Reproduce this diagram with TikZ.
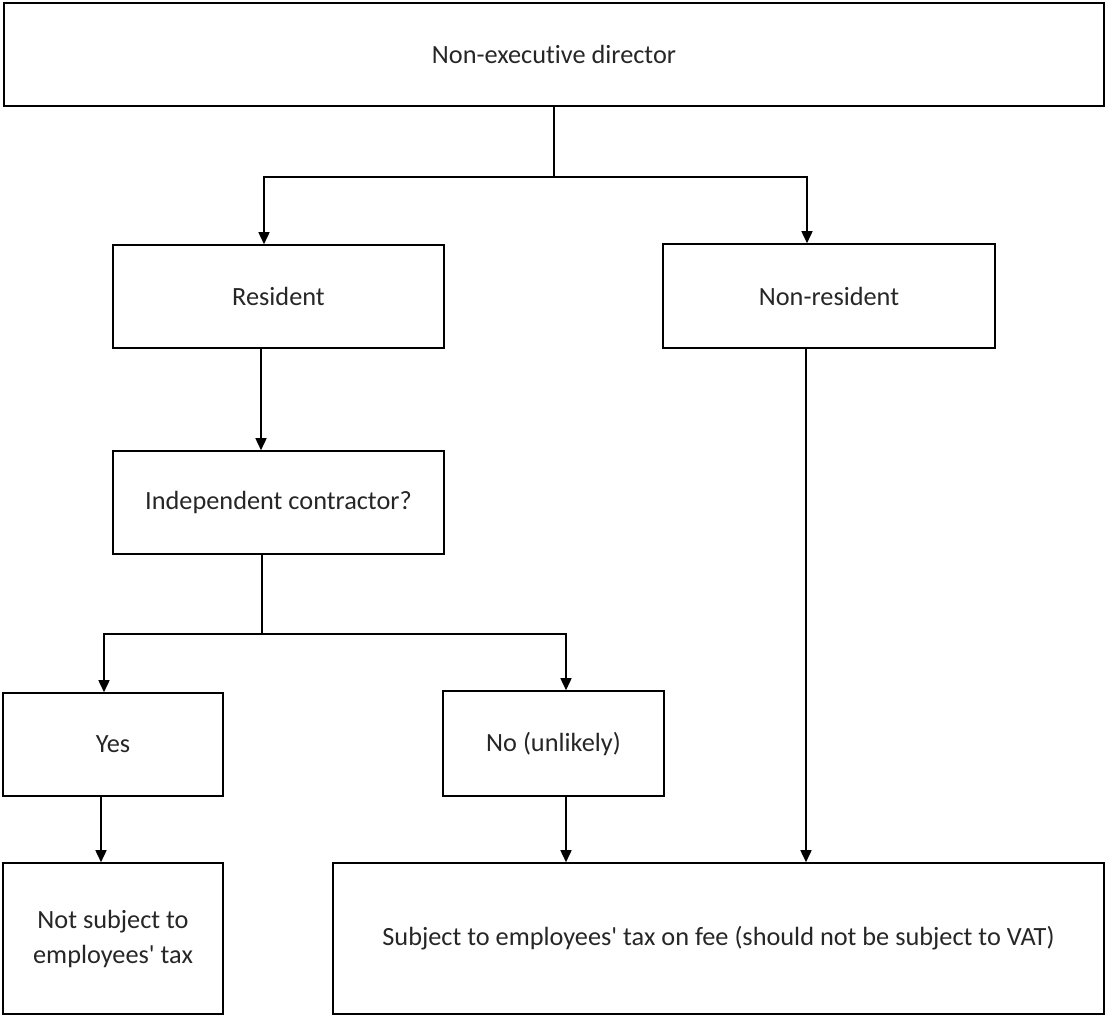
\documentclass[tikz,border=0pt]{standalone}
\usepackage{fontspec}
\newfontfamily\cf{Carlito}[Ligatures={NoCommon},RawFeature={-liga}]
\usetikzlibrary{arrows.meta}
\begin{document}
\begin{tikzpicture}[x=1pt,y=-1pt,
  box/.style={draw=black,line width=1.6pt,minimum width=#1,inner sep=0pt,align=center,
    font=\cf\fontsize{26.3}{35}\selectfont,text=black!85},
  arr/.style={line width=1.6pt,-{Triangle[width=11pt,length=12pt]}},
  ln/.style={line width=1.6pt}]
\useasboundingbox (0,0) rectangle (1106,1015);
\node[box=1100pt,minimum height=103pt] (top) at (554,54.5) {Non-executive director};
\node[box=331pt,minimum height=103pt] (res) at (278.5,296.5) {Resident};
\node[box=332pt,minimum height=104pt] (nonres) at (829,296) {Non-resident};
\node[box=331pt,minimum height=103pt] (ind) at (278.5,502.5) {Independent contractor?};
\node[box=220pt,minimum height=103pt] (yes) at (113,744.5) {Yes};
\node[box=221pt,minimum height=105pt] (no) at (553.5,743.5) {No (unlikely)};
\node[box=220pt,minimum height=151pt] (notsub) at (113,938.5) {Not subject to\\employees\textquotesingle\ tax};
\node[box=771pt,minimum height=151pt] (sub) at (718.5,938.5) {Subject to employees\textquotesingle\ tax on fee (should not be subject to VAT)};
\coordinate (jL) at (264,177);
\coordinate (jR) at (807,177);
\draw[arr] (top.south) |- (jL) -- (jL |- res.north);
\draw[arr] (top.south) |- (jR) -- (jR |- nonres.north);
\coordinate (r1) at (261,0);
\draw[arr] (r1 |- res.south) -- (r1 |- ind.north);
\coordinate (kL) at (104,634);
\coordinate (kR) at (566,634);
\coordinate (k0) at (262,0);
\draw[arr] (k0 |- ind.south) |- (kL) -- (kL |- yes.north);
\draw[arr] (k0 |- ind.south) |- (kR) -- (kR |- no.north);
\coordinate (y1) at (101,0);
\draw[arr] (y1 |- yes.south) -- (y1 |- notsub.north);
\coordinate (n1) at (566,0);
\draw[arr] (n1 |- no.south) -- (n1 |- sub.north);
\coordinate (m1) at (806,0);
\draw[arr] (m1 |- nonres.south) -- (m1 |- sub.north);
\end{tikzpicture}
\end{document}
